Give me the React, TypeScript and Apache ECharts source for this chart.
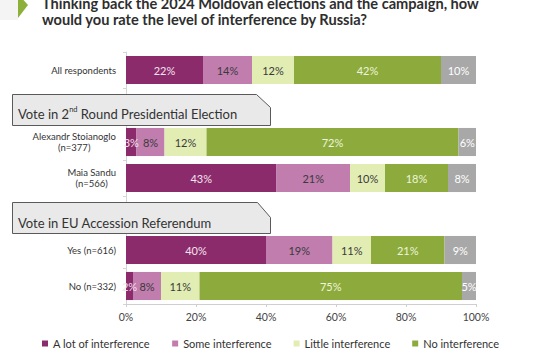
import React, { useEffect, useRef } from "react";
import * as echarts from "echarts";

const categories = [
  "All respondents",
  " ",
  "Alexandr Stoianoglo\n(n=377)",
  "Maia Sandu\n(n=566)",
  "  ",
  "Yes (n=616)",
  "No (n=332)",
];
const seriesNames = ["A lot of interference", "Some interference", "Little interference", "No interference", "Don't know"];
const aLot = [22, null, 3, 43, null, 40, 2];
const some = [14, null, 8, 21, null, 19, 8];
const little = [12, null, 12, 10, null, 11, 11];
const none = [42, null, 72, 18, null, 21, 75];
const dontKnow = [10, null, 6, 8, null, 9, 5];
const xTicks = [0, 20, 40, 60, 80, 100];

const colors = ["#8c2b6c", "#c17dae", "#e2edb4", "#8dab3c", "#a8a8a8"];
const labelColors = ["#f3e3ee", "#3a3a3a", "#3a3a3a", "#eef4dc", "#ffffff"];
const FONT = "Lato";

export default function App() {
  const ref = useRef<HTMLDivElement>(null);
  useEffect(() => {
    if (!ref.current) return;
    const chart = echarts.init(ref.current, null, { renderer: "svg" });
    const values = [aLot, some, little, none, dontKnow];
    chart.setOption({
      animation: false,
      textStyle: { fontFamily: FONT },
      title: {
        text: "Thinking back the 2024 Moldovan elections and the campaign, how\nwould you rate the level of interference by Russia?",
        left: 37,
        top: -10,
        textStyle: { fontFamily: FONT, fontWeight: "bold", fontSize: 14.6, lineHeight: 16.5, color: "#2e2e2e" },
      },
      legend: {
        data: seriesNames.slice(0, 4),
        left: 37,
        top: 333,
        icon: "rect",
        itemWidth: 6,
        itemHeight: 6,
        itemGap: 22,
        textStyle: { fontFamily: FONT, fontSize: 11, color: "#333" },
      },
      grid: { left: 126, right: 67, top: 52, bottom: 50 },
      xAxis: {
        type: "value",
        min: 0,
        max: 100,
        interval: 20,
        axisLine: { show: true, lineStyle: { color: "#cfcfcf" } },
        axisTick: { show: true, length: 3, lineStyle: { color: "#cfcfcf" } },
        splitLine: { show: false },
        axisLabel: {
          margin: 7,
          fontFamily: FONT,
          fontSize: 10.5,
          color: "#444",
          formatter: (v: number) => (xTicks.includes(v) ? `${v}%` : ""),
        },
      },
      yAxis: {
        type: "category",
        inverse: true,
        data: categories,
        axisLine: { show: true, lineStyle: { color: "#d5d5d5" } },
        axisTick: { show: true, length: 3, lineStyle: { color: "#d5d5d5" } },
        axisLabel: {
          margin: 10,
          fontFamily: FONT,
          fontSize: 9.5,
          color: "#333",
          formatter: (v: string) =>
            v.trim() === "" ? "" : v.split("\n").map((l) => `{c|${l}}`).join("\n"),
          rich: { c: { align: "center", fontFamily: FONT, fontSize: 9.5, lineHeight: 11, color: "#333" } },
        },
      },
      series: values.map((d, i) => ({
        name: seriesNames[i],
        type: "bar",
        stack: "total",
        barWidth: "78%",
        data: d,
        itemStyle: { color: colors[i] },
        label: {
          show: true,
          position: "inside",
          formatter: (p: any) => (p.value == null ? "" : `${p.value}%`),
          fontFamily: FONT,
          fontSize: 11,
          color: labelColors[i],
        },
      })),
      graphic: [
        {
          type: "rect",
          left: 0,
          top: 0,
          shape: { width: 18, height: 20 },
          style: { fill: "#f4f4f4" },
          z: 90,
        },
        {
          type: "polygon",
          left: 12,
          top: 94,
          shape: { points: [[0, 0], [244, 0], [258, 13], [258, 31], [0, 31]] },
          style: { fill: "#e9e9e9", stroke: "#5a5a5a", lineWidth: 1 },
          z: 100,
        },
        {
          type: "text",
          left: 18,
          top: 105,
          z: 101,
          style: {
            text: "{a|Vote in 2}{s|nd}{a| Round Presidential Election}",
            rich: {
              a: { fontFamily: FONT, fontSize: 13, fill: "#333", lineHeight: 18 },
              s: { fontFamily: FONT, fontSize: 7.5, fill: "#333", verticalAlign: "top", lineHeight: 18, padding: [0, 0, 8, 0] },
            },
          },
        },
        {
          type: "polygon",
          left: 12,
          top: 202,
          shape: { points: [[0, 0], [245, 0], [258, 15], [258, 31], [0, 31]] },
          style: { fill: "#e9e9e9", stroke: "#5a5a5a", lineWidth: 1 },
          z: 100,
        },
        {
          type: "text",
          left: 18,
          top: 214,
          z: 101,
          style: {
            text: "Vote in EU Accession Referendum",
            fontFamily: FONT,
            fontSize: 13,
            lineHeight: 17,
            fill: "#333",
          },
        },
        {
          type: "polygon",
          left: 18,
          top: 0,
          shape: { points: [[0, 0], [5.5, 0], [10, 5], [0, 18]] },
          style: { fill: "#8db03a" },
          z: 120,
        },
      ],
    });
    return () => chart.dispose();
  }, []);
  return <div ref={ref} style={{ width: 543, height: 354, position: "absolute", left: 0, top: 0 }} />;
}
